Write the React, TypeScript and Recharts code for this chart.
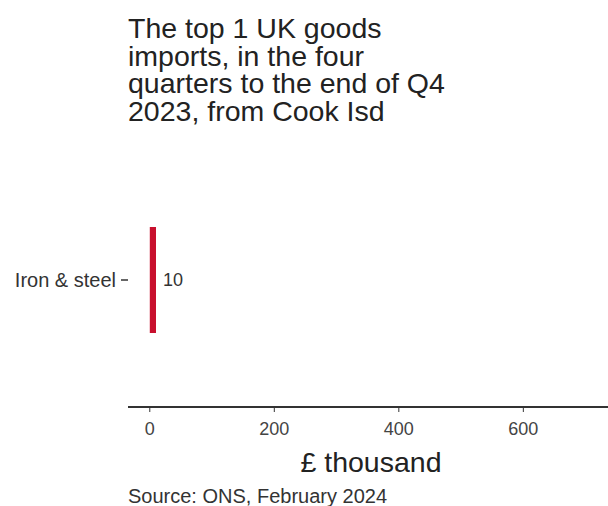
import React from 'react';
import { BarChart, Bar, XAxis, YAxis, LabelList } from 'recharts';

const categories = ['Iron & steel'];
const values = [10];
const xTicks = [0, 200, 400, 600];

const data = categories.map((name, i) => ({ name, value: values[i] }));

const font = '"Liberation Sans", Arial, sans-serif';

export default function App() {
  return (
    <div style={{ position: 'absolute', left: 0, top: 0, width: 608, height: 506, fontFamily: font, background: '#fff' }}>
      <div
        style={{
          position: 'absolute',
          left: 128,
          top: 15,
          fontSize: 28.5,
          lineHeight: '27.7px',
          color: '#222',
          whiteSpace: 'pre',
        }}
      >
        {'The top 1 UK goods\nimports, in the four\nquarters to the end of Q4\n2023, from Cook Isd'}
      </div>
      <BarChart
        width={608}
        height={506}
        data={data}
        layout="vertical"
        margin={{ top: 153, right: 0, bottom: 59, left: 0 }}
      >
        <XAxis
          type="number"
          domain={[-35, 736]}
          ticks={xTicks}
          allowDataOverflow
          height={40}
          axisLine={{ stroke: '#333', strokeWidth: 2 }}
          tickLine={{ stroke: '#333' }}
          tickSize={5}
          tickMargin={10}
          tick={{ fill: '#444', fontSize: 18, fontFamily: font }}
        />
        <YAxis
          type="category"
          dataKey="name"
          width={128}
          axisLine={false}
          tickLine={{ stroke: '#333', strokeWidth: 1.5 }}
          tickSize={7}
          tickMargin={5}
          tick={{ fill: '#333', fontSize: 20, fontFamily: font }}
        />
        <Bar dataKey="value" fill="#c8102e" barSize={106} isAnimationActive={false}>
          <LabelList dataKey="value" position="right" offset={7} fill="#333" fontSize={18} fontFamily={font} />
        </Bar>
      </BarChart>
      <div style={{ position: 'absolute', left: 228, width: 286, textAlign: 'center', top: 448, fontSize: 28.5, lineHeight: '28px', color: '#222' }}>
        £ thousand
      </div>
      <div style={{ position: 'absolute', left: 128, top: 486, fontSize: 20, lineHeight: '20px', color: '#333', whiteSpace: 'nowrap' }}>
        Source: ONS, February 2024
      </div>
    </div>
  );
}
